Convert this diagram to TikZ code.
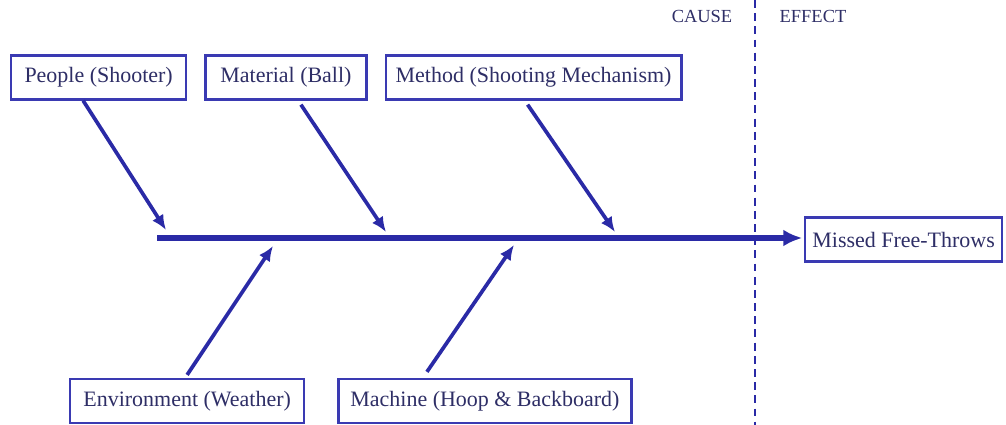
\documentclass[tikz,border=0pt]{standalone}
\usepackage{fontspec}
\setmainfont{Liberation Serif}
\usetikzlibrary{arrows.meta,positioning}
\definecolor{bonenavy}{HTML}{2A2AA6}
\definecolor{boxnavy}{HTML}{3A3AB2}
\definecolor{textnavy}{HTML}{2E2E66}
\tikzset{
  >=Latex,
  cause/.style={
    rectangle, draw=boxnavy, line width=1.3pt, fill=white,
    inner xsep=0.2cm, minimum height=0.88cm, align=center,
    font=\fontsize{12.5}{15}\selectfont, text=textnavy
  },
  side/.style={font=\fontsize{10.5}{12}\selectfont, text=textnavy},
  spine/.style={-{Latex[length=3.8mm,width=3.4mm]}, line width=3pt, draw=bonenavy},
  bone/.style={-{Latex[length=3mm,width=2.6mm]}, line width=2.1pt, draw=bonenavy},
  divider/.style={draw=bonenavy, line width=1.2pt, dash pattern=on 4.5pt off 3pt}
}
\begin{document}
\begin{tikzpicture}[node distance=0.34cm]
\useasboundingbox (0,0) rectangle (20.12,-8.5);
% causes above the spine
\node[cause, anchor=west, minimum width=3.5cm] (people) at (0.2,-1.55) {People (Shooter)};
\node[cause, right=of people, minimum width=3.22cm] (material) {Material (Ball)};
\node[cause, right=of material, minimum width=5.9cm] (method) {Method (Shooting Mechanism)};
% causes below the spine
\node[cause, anchor=west, minimum width=4.68cm] (env) at (1.38,-8.02) {Environment (Weather)};
\node[cause, right=0.64cm of env, minimum width=5.86cm] (machine) {Machine (Hoop \& Backboard)};
% effect
\node[cause, anchor=west, inner xsep=0.12cm, minimum width=3.94cm] (missed) at (16.08,-4.79) {Missed Free-Throws};
% cause / effect divider
\coordinate (dtop) at (15.1,0);
\coordinate (dbot) at (15.1,-8.5);
\draw[divider] (dtop) -- (dbot);
\node[side] (causelbl) at (14.04,-0.33) {CAUSE};
\node[side] (effectlbl) at (16.26,-0.33) {EFFECT};
% spine and its bones
\coordinate (tail) at (3.14,-4.76);
\draw[spine] (tail) -- ([xshift=-1pt]missed.west |- tail);
\coordinate (p1) at (3.32,-4.6);
\coordinate (p2) at (7.72,-4.64);
\coordinate (p3) at (12.3,-4.64);
\coordinate (q1) at (5.46,-4.92);
\coordinate (q2) at (10.28,-4.9);
\draw[bone] ([xshift=-0.31cm]people.south) -- (p1);
\draw[bone] ([xshift=0.3cm,yshift=-0.08cm]material.south) -- (p2);
\draw[bone] ([xshift=-0.12cm,yshift=-0.08cm]method.south) -- (p3);
\draw[bone] ([yshift=0.06cm]env.north) -- (q1);
\draw[bone] ([xshift=-1.16cm,yshift=0.12cm]machine.north) -- (q2);
\end{tikzpicture}
\end{document}
